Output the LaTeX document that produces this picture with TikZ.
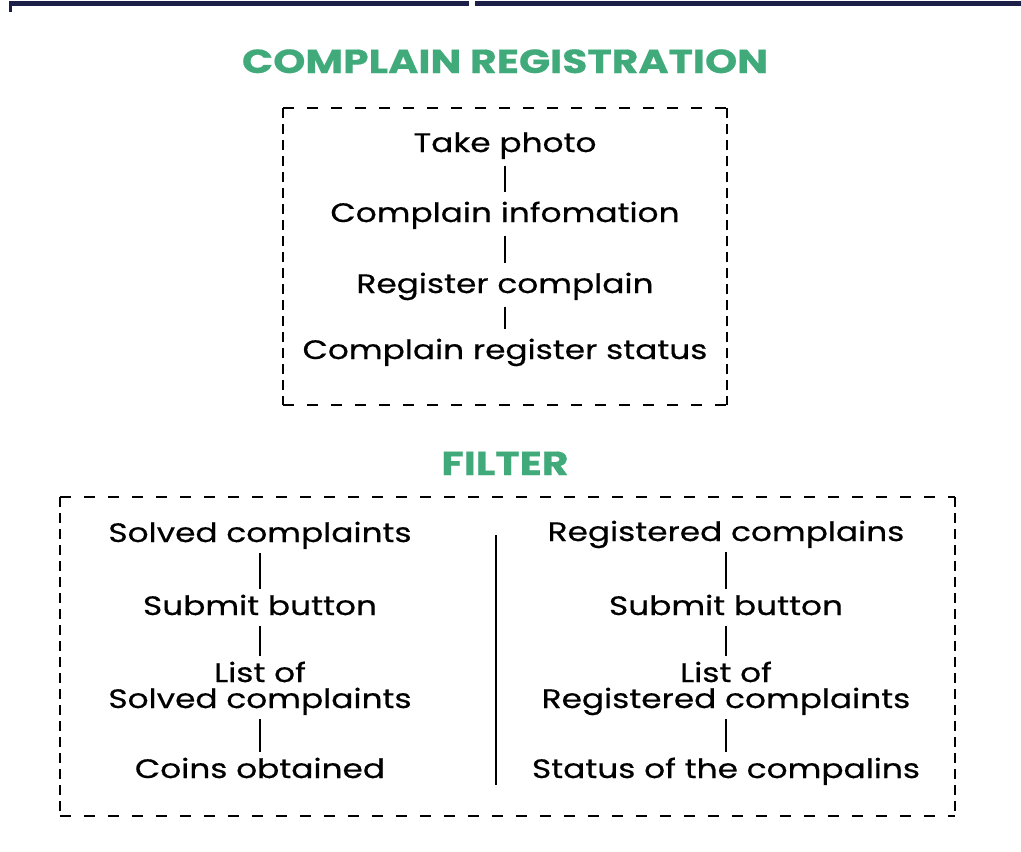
\documentclass[tikz,border=0pt]{standalone}
\usepackage{fontspec}
\setmainfont[FakeStretch=1.23,FakeBold=0.5]{Poppins}
\definecolor{titlegreen}{HTML}{41AA7B}
\definecolor{barnavy}{HTML}{1C2049}

\tikzset{
  heading/.style={anchor=base,inner sep=0pt,text=titlegreen,font=\fontsize{25}{25}\selectfont\bfseries},
  stepitem/.style={anchor=base,inner sep=0pt,text height=14pt,text depth=0pt,align=center,font=\fontsize{20}{19.5}\selectfont},
  twoline/.style={text height=33.5pt},
  stepline/.style={line width=1.4pt,shorten <=10pt,shorten >=8pt},
  filterline/.style={line width=1.4pt,shorten <=8pt,shorten >=5pt},
  hdash/.style={line width=1.8pt,dash pattern=on 8pt off 10pt},
  vdash/.style={line width=1.9pt,dash pattern=on 7.5pt off 4.5pt}
}

\begin{document}
\begin{tikzpicture}[x=0.75pt,y=-0.75pt]

\useasboundingbox[fill=white] (0,0) rectangle (1021,851);

% top bar
\fill[barnavy] (9,1) rectangle (469,6);
\fill[barnavy] (475,1) rectangle (1021,6);
\fill[barnavy] (9,6) rectangle (12,12);

% complain registration
\node[heading] (regtitle) at (505,73) {COMPLAIN REGISTRATION};
\draw[hdash] (283,108) -- (727,108);
\draw[hdash] (283,405) -- (727,405);
\draw[vdash] (283,108) -- (283,405);
\draw[vdash] (727,108) -- (727,405);

\node[stepitem] (photo) at (505,152) {Take photo};
\node[stepitem] (info) at (505,222) {Complain infomation};
\node[stepitem] (register) at (505,293) {Register complain};
\node[stepitem] (status) at (505,359) {Complain register status};

\draw[stepline] (photo) -- (info);
\draw[stepline] (info) -- (register);
\draw[stepline] (register) -- (status);

% filter
\node[heading] (filtertitle) at (505,475) {FILTER};
\draw[hdash] (60,497) -- (955,497);
\draw[hdash] (60,816) -- (955,816);
\draw[vdash] (60,497) -- (60,816);
\draw[vdash] (955,497) -- (955,816);
\draw[line width=1.4pt] (496,535) -- (496,785);

% solved side
\node[stepitem] (solved) at (260,542) {Solved complaints};
\node[stepitem] (lsubmit) at (260,615) {Submit button};
\node[stepitem,twoline] (lsolved) at (260,708) {List of\\Solved complaints};
\node[stepitem] (coins) at (260,778) {Coins obtained};

\draw[filterline] (solved) -- (lsubmit);
\draw[filterline] (lsubmit) -- (lsolved);
\draw[filterline] (lsolved) -- (coins);

% registered side
\node[stepitem] (registered) at (726,541) {Registered complains};
\node[stepitem] (rsubmit) at (726,615) {Submit button};
\node[stepitem,twoline] (lregistered) at (726,708) {List of\\Registered complaints};
\node[stepitem] (statusof) at (726,778) {Status of the compalins};

\draw[filterline] (registered) -- (rsubmit);
\draw[filterline] (rsubmit) -- (lregistered);
\draw[filterline] (lregistered) -- (statusof);

\end{tikzpicture}
\end{document}
